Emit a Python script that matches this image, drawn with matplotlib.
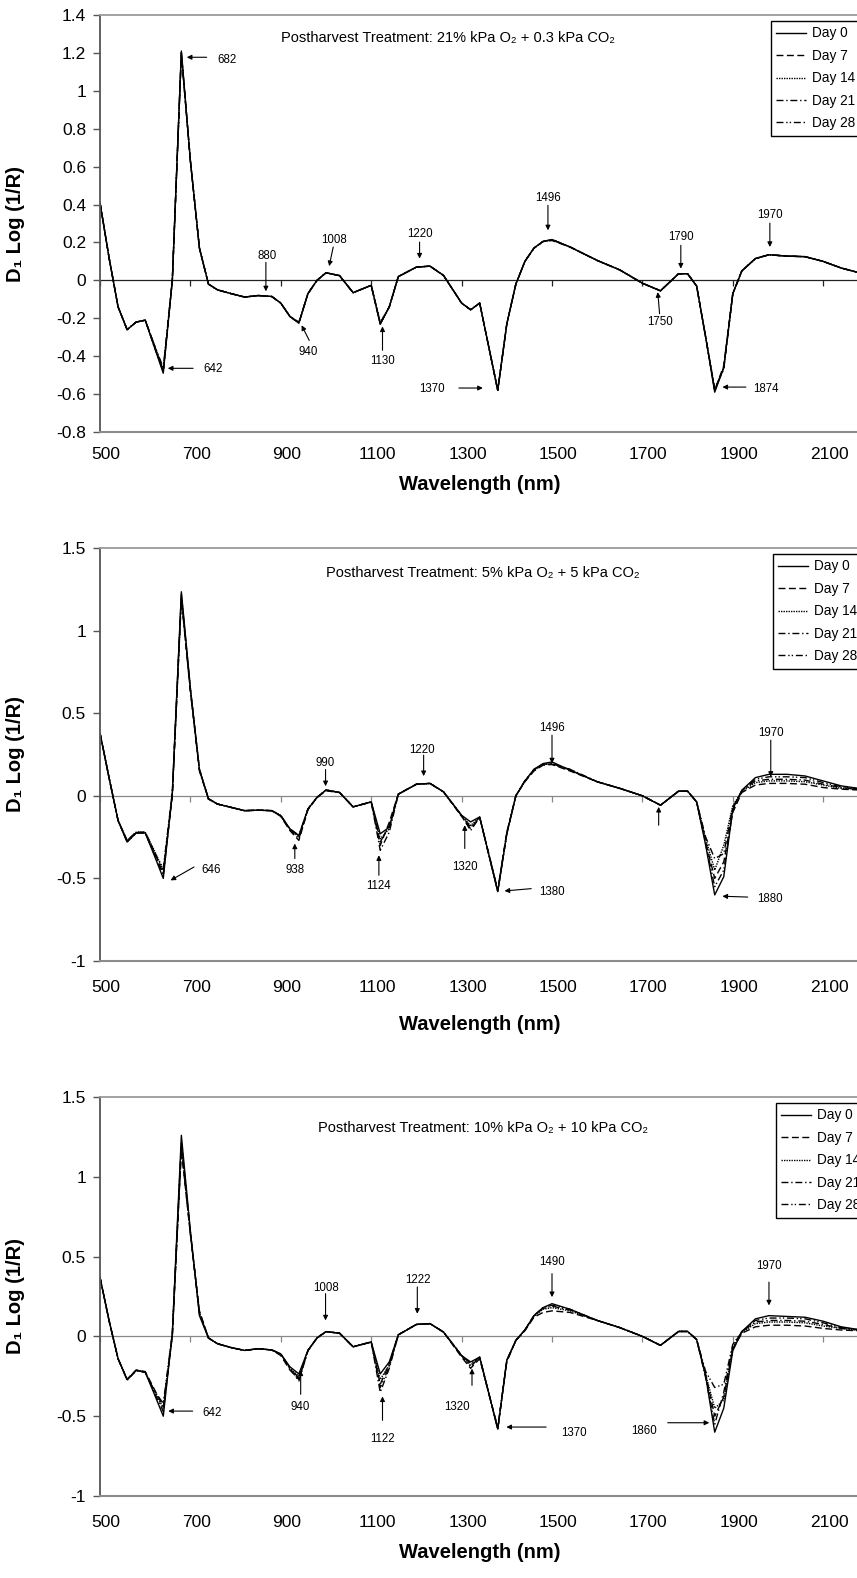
import matplotlib
matplotlib.use('Agg')
import matplotlib.pyplot as plt
import matplotlib.transforms as mtransforms
from matplotlib.ticker import FuncFormatter, MultipleLocator, FixedLocator

plt.rcParams['font.family'] = ['Liberation Sans', 'DejaVu Sans']

W, H = 857, 1578

# wavelength grid (nm)
wl = [500, 520, 540, 560, 580, 600, 620, 640, 660, 680,
      700, 720, 740, 760, 790, 820, 850, 880, 900, 920,
      940, 960, 980, 1000, 1030, 1060, 1100, 1120, 1140, 1160,
      1200, 1230, 1260, 1300, 1320, 1340, 1380, 1400, 1420, 1440,
      1460, 1480, 1500, 1540, 1600, 1650, 1700, 1740, 1780, 1800,
      1820, 1840, 1860, 1880, 1900, 1920, 1950, 1980, 2020, 2060,
      2100, 2140, 2180]

xticks = [500, 700, 900, 1100, 1300, 1500, 1700, 1900, 2100]
days = ['Day 0', 'Day 7', 'Day 14', 'Day 21', 'Day 28']

# panel 1: 21% O2 + 0.3 CO2
p1_day0 = [0.41, 0.12, -0.14, -0.26, -0.22, -0.21, -0.35, -0.49, 0.00, 1.21,
           0.63, 0.17, -0.02, -0.05, -0.07, -0.088, -0.08, -0.085, -0.12, -0.19,
           -0.225, -0.07, 0.00, 0.04, 0.025, -0.065, -0.026, -0.23, -0.14, 0.02,
           0.07, 0.075, 0.026, -0.12, -0.155, -0.12, -0.58, -0.23, -0.02, 0.10,
           0.17, 0.205, 0.215, 0.176, 0.105, 0.055, -0.015, -0.055, 0.035, 0.035,
           -0.03, -0.30, -0.59, -0.46, -0.07, 0.05, 0.115, 0.135, 0.128, 0.125,
           0.10, 0.065, 0.04]
p1_day7 = [0.41, 0.12, -0.14, -0.26, -0.22, -0.21, -0.34, -0.48, 0.00, 1.20,
           0.63, 0.17, -0.02, -0.05, -0.07, -0.088, -0.08, -0.085, -0.12, -0.19,
           -0.225, -0.07, 0.00, 0.04, 0.025, -0.065, -0.026, -0.23, -0.14, 0.02,
           0.07, 0.075, 0.026, -0.12, -0.155, -0.12, -0.58, -0.23, -0.02, 0.10,
           0.17, 0.205, 0.21, 0.176, 0.105, 0.055, -0.015, -0.055, 0.035, 0.035,
           -0.03, -0.30, -0.58, -0.45, -0.07, 0.05, 0.115, 0.135, 0.128, 0.125,
           0.10, 0.065, 0.04]
p1_day14 = [0.41, 0.12, -0.14, -0.26, -0.22, -0.21, -0.34, -0.47, 0.00, 1.20,
            0.63, 0.17, -0.02, -0.05, -0.07, -0.088, -0.08, -0.085, -0.12, -0.19,
            -0.225, -0.07, 0.00, 0.04, 0.025, -0.065, -0.026, -0.22, -0.14, 0.02,
            0.07, 0.075, 0.026, -0.12, -0.155, -0.12, -0.58, -0.23, -0.02, 0.10,
            0.17, 0.205, 0.215, 0.176, 0.105, 0.055, -0.015, -0.055, 0.035, 0.035,
            -0.03, -0.30, -0.58, -0.46, -0.07, 0.05, 0.115, 0.135, 0.128, 0.125,
            0.10, 0.065, 0.04]
p1_day21 = [0.41, 0.12, -0.14, -0.26, -0.22, -0.21, -0.35, -0.48, 0.00, 1.19,
            0.63, 0.17, -0.02, -0.05, -0.07, -0.088, -0.08, -0.085, -0.12, -0.19,
            -0.225, -0.07, 0.00, 0.04, 0.025, -0.065, -0.026, -0.23, -0.14, 0.02,
            0.07, 0.075, 0.026, -0.12, -0.155, -0.12, -0.58, -0.23, -0.02, 0.10,
            0.17, 0.205, 0.215, 0.176, 0.105, 0.055, -0.015, -0.055, 0.035, 0.035,
            -0.03, -0.30, -0.57, -0.47, -0.07, 0.05, 0.115, 0.135, 0.128, 0.125,
            0.10, 0.065, 0.04]
p1_day28 = [0.41, 0.12, -0.14, -0.26, -0.22, -0.21, -0.34, -0.46, 0.00, 1.20,
            0.63, 0.17, -0.02, -0.05, -0.07, -0.088, -0.08, -0.085, -0.12, -0.19,
            -0.22, -0.07, 0.00, 0.04, 0.025, -0.065, -0.026, -0.23, -0.14, 0.02,
            0.07, 0.075, 0.026, -0.12, -0.155, -0.12, -0.58, -0.23, -0.02, 0.10,
            0.17, 0.205, 0.215, 0.176, 0.105, 0.055, -0.015, -0.055, 0.035, 0.035,
            -0.03, -0.30, -0.58, -0.46, -0.07, 0.05, 0.115, 0.135, 0.128, 0.125,
            0.10, 0.065, 0.04]

# panel 2: 5% O2 + 5 CO2
p2_day0 = [0.38, 0.11, -0.15, -0.28, -0.225, -0.225, -0.36, -0.50, 0.02, 1.235,
           0.65, 0.155, -0.016, -0.05, -0.07, -0.09, -0.087, -0.09, -0.12, -0.20,
           -0.24, -0.08, -0.01, 0.035, 0.02, -0.067, -0.037, -0.23, -0.19, 0.01,
           0.07, 0.075, 0.024, -0.118, -0.158, -0.128, -0.58, -0.23, 0.00, 0.09,
           0.16, 0.195, 0.205, 0.155, 0.085, 0.045, 0.00, -0.057, 0.028, 0.028,
           -0.037, -0.30, -0.60, -0.49, -0.08, 0.034, 0.11, 0.13, 0.13, 0.12,
           0.09, 0.06, 0.044]
p2_day7 = [0.38, 0.11, -0.15, -0.27, -0.22, -0.22, -0.34, -0.47, 0.00, 1.20,
           0.64, 0.16, -0.02, -0.05, -0.07, -0.09, -0.087, -0.09, -0.125, -0.21,
           -0.27, -0.085, -0.01, 0.03, 0.02, -0.067, -0.037, -0.30, -0.16, 0.01,
           0.07, 0.075, 0.024, -0.125, -0.20, -0.13, -0.57, -0.22, 0.00, 0.085,
           0.15, 0.185, 0.19, 0.15, 0.085, 0.045, 0.00, -0.057, 0.028, 0.028,
           -0.037, -0.28, -0.50, -0.40, -0.10, 0.02, 0.065, 0.075, 0.075, 0.07,
           0.05, 0.04, 0.035]
p2_day14 = [0.38, 0.11, -0.15, -0.27, -0.22, -0.22, -0.33, -0.45, 0.01, 1.22,
            0.65, 0.16, -0.02, -0.05, -0.07, -0.09, -0.087, -0.09, -0.12, -0.20,
            -0.25, -0.08, -0.01, 0.035, 0.02, -0.067, -0.037, -0.26, -0.20, 0.01,
            0.07, 0.075, 0.024, -0.12, -0.18, -0.13, -0.58, -0.23, 0.00, 0.09,
            0.155, 0.19, 0.195, 0.155, 0.085, 0.045, 0.00, -0.057, 0.028, 0.028,
            -0.037, -0.26, -0.45, -0.30, -0.06, 0.025, 0.08, 0.09, 0.09, 0.085,
            0.065, 0.045, 0.038]
p2_day21 = [0.38, 0.11, -0.15, -0.275, -0.225, -0.225, -0.35, -0.48, 0.01, 1.19,
            0.63, 0.15, -0.02, -0.05, -0.07, -0.09, -0.087, -0.09, -0.12, -0.205,
            -0.26, -0.08, -0.01, 0.035, 0.02, -0.067, -0.037, -0.33, -0.22, 0.01,
            0.07, 0.075, 0.024, -0.12, -0.21, -0.13, -0.57, -0.23, 0.00, 0.09,
            0.155, 0.19, 0.195, 0.16, 0.085, 0.045, 0.00, -0.057, 0.028, 0.028,
            -0.037, -0.25, -0.38, -0.35, -0.07, 0.03, 0.09, 0.10, 0.10, 0.095,
            0.07, 0.05, 0.04]
p2_day28 = [0.38, 0.11, -0.15, -0.28, -0.225, -0.225, -0.34, -0.44, 0.02, 1.21,
            0.64, 0.16, -0.02, -0.05, -0.07, -0.09, -0.087, -0.09, -0.12, -0.20,
            -0.24, -0.08, -0.01, 0.035, 0.02, -0.067, -0.037, -0.28, -0.18, 0.01,
            0.07, 0.075, 0.024, -0.12, -0.19, -0.13, -0.58, -0.23, 0.00, 0.09,
            0.16, 0.19, 0.19, 0.16, 0.085, 0.045, 0.00, -0.057, 0.028, 0.028,
            -0.037, -0.29, -0.55, -0.45, -0.09, 0.03, 0.10, 0.115, 0.115, 0.11,
            0.08, 0.055, 0.042]

# panel 3: 10% O2 + 10 CO2
p3_day0 = [0.37, 0.10, -0.14, -0.27, -0.213, -0.224, -0.36, -0.50, 0.02, 1.26,
           0.66, 0.13, -0.01, -0.046, -0.07, -0.088, -0.077, -0.085, -0.11, -0.19,
           -0.235, -0.088, -0.01, 0.03, 0.02, -0.065, -0.035, -0.235, -0.16, 0.01,
           0.075, 0.08, 0.027, -0.12, -0.16, -0.13, -0.58, -0.15, -0.025, 0.04,
           0.13, 0.18, 0.205, 0.17, 0.10, 0.055, 0.00, -0.056, 0.031, 0.031,
           -0.02, -0.25, -0.60, -0.45, -0.09, 0.03, 0.11, 0.13, 0.125, 0.12,
           0.095, 0.06, 0.042]
p3_day7 = [0.37, 0.10, -0.14, -0.27, -0.21, -0.22, -0.33, -0.44, 0.00, 1.17,
           0.64, 0.16, -0.01, -0.046, -0.07, -0.088, -0.077, -0.085, -0.12, -0.21,
           -0.27, -0.09, -0.01, 0.03, 0.02, -0.065, -0.035, -0.30, -0.17, 0.01,
           0.075, 0.08, 0.027, -0.13, -0.20, -0.14, -0.57, -0.16, -0.025, 0.035,
           0.12, 0.15, 0.16, 0.15, 0.10, 0.055, 0.00, -0.056, 0.031, 0.031,
           -0.02, -0.24, -0.50, -0.38, -0.08, 0.02, 0.06, 0.07, 0.07, 0.065,
           0.05, 0.04, 0.035]
p3_day14 = [0.37, 0.10, -0.14, -0.27, -0.213, -0.224, -0.34, -0.45, 0.01, 1.20,
            0.65, 0.15, -0.01, -0.046, -0.07, -0.088, -0.077, -0.085, -0.11, -0.20,
            -0.25, -0.088, -0.01, 0.03, 0.02, -0.065, -0.035, -0.27, -0.18, 0.01,
            0.075, 0.08, 0.027, -0.12, -0.18, -0.13, -0.58, -0.15, -0.025, 0.04,
            0.125, 0.17, 0.18, 0.16, 0.10, 0.055, 0.00, -0.056, 0.031, 0.031,
            -0.02, -0.24, -0.45, -0.40, -0.07, 0.025, 0.08, 0.09, 0.09, 0.085,
            0.065, 0.05, 0.038]
p3_day21 = [0.37, 0.10, -0.14, -0.275, -0.215, -0.224, -0.35, -0.47, 0.01, 1.22,
            0.65, 0.14, -0.01, -0.046, -0.07, -0.088, -0.077, -0.085, -0.11, -0.20,
            -0.28, -0.09, -0.01, 0.03, 0.02, -0.065, -0.035, -0.35, -0.20, 0.01,
            0.075, 0.08, 0.027, -0.12, -0.17, -0.13, -0.58, -0.15, -0.025, 0.04,
            0.13, 0.175, 0.19, 0.165, 0.10, 0.055, 0.00, -0.056, 0.031, 0.031,
            -0.02, -0.26, -0.55, -0.35, -0.06, 0.03, 0.09, 0.10, 0.10, 0.095,
            0.075, 0.05, 0.04]
p3_day28 = [0.37, 0.10, -0.14, -0.27, -0.213, -0.224, -0.34, -0.42, 0.02, 1.18,
            0.64, 0.15, -0.01, -0.046, -0.07, -0.088, -0.077, -0.085, -0.11, -0.20,
            -0.26, -0.088, -0.01, 0.03, 0.02, -0.065, -0.035, -0.32, -0.19, 0.01,
            0.075, 0.08, 0.027, -0.12, -0.19, -0.13, -0.58, -0.15, -0.025, 0.04,
            0.13, 0.18, 0.195, 0.17, 0.10, 0.055, 0.00, -0.056, 0.031, 0.031,
            -0.02, -0.22, -0.32, -0.30, -0.05, 0.03, 0.10, 0.115, 0.115, 0.11,
            0.085, 0.055, 0.042]

titles = ['Postharvest Treatment: 21% kPa O\u2082 + 0.3 kPa CO\u2082',
          'Postharvest Treatment: 5% kPa O\u2082 + 5 kPa CO\u2082',
          'Postharvest Treatment: 10% kPa O\u2082 + 10 kPa CO\u2082']

# annotations: label, text xy, tail xy, tip xy (data units), text ha
notes1 = [('682', (759, 1.16), (736, 1.177), (692, 1.177), 'left'),
          ('642', (728, -0.47), (706, -0.464), (650, -0.464), 'left'),
          ('880', (869, 0.127), (867, 0.095), (867, -0.058), 'center'),
          ('1008', (1017, 0.211), (1016, 0.176), (1007, 0.075), 'center'),
          ('940', (960, -0.38), (963, -0.317), (946, -0.237), 'center'),
          ('1130', (1125, -0.427), (1125, -0.369), (1125, -0.243), 'center'),
          ('1220', (1207, 0.243), (1207, 0.202), (1207, 0.115), 'center'),
          ('1496', (1491, 0.436), (1491, 0.396), (1491, 0.264), 'center'),
          ('1370', (1234, -0.575), (1294, -0.568), (1347, -0.568), 'center'),
          ('1790', (1785, 0.229), (1785, 0.185), (1785, 0.062), 'center'),
          ('1750', (1738, -0.22), (1738, -0.176), (1734, -0.062), 'center'),
          ('1874', (1944, -0.571), (1929, -0.563), (1877, -0.563), 'left'),
          ('1970', (1982, 0.343), (1982, 0.302), (1982, 0.176), 'center')]
notes2 = [('646', (725, -0.447), (708, -0.431), (656, -0.512), 'left'),
          ('938', (931, -0.447), (931, -0.38), (931, -0.289), 'center'),
          ('990', (999, 0.196), (999, 0.159), (999, 0.058), 'center'),
          ('1124', (1117, -0.548), (1117, -0.481), (1117, -0.36), 'center'),
          ('1220', (1212, 0.276), (1216, 0.246), (1216, 0.119), 'center'),
          ('1320', (1307, -0.431), (1307, -0.319), (1307, -0.178), 'center'),
          ('1380', (1472, -0.582), (1454, -0.562), (1395, -0.576), 'left'),
          ('1496', (1500, 0.412), (1500, 0.367), (1500, 0.196), 'center'),
          ('', (1736, -0.2), (1736, -0.178), (1736, -0.067), 'center'),
          ('1880', (1955, -0.622), (1933, -0.613), (1877, -0.608), 'left'),
          ('1970', (1984, 0.378), (1984, 0.337), (1984, 0.115), 'center')]
notes3 = [('642', (726, -0.479), (705, -0.468), (651, -0.468), 'left'),
          ('940', (943, -0.443), (944, -0.363), (944, -0.213), 'center'),
          ('1008', (999, 0.305), (999, 0.268), (999, 0.1), 'center'),
          ('1122', (1125, -0.641), (1125, -0.526), (1125, -0.376), 'center'),
          ('1222', (1203, 0.355), (1202, 0.31), (1202, 0.142), 'center'),
          ('1320', (1290, -0.443), (1323, -0.307), (1323, -0.202), 'center'),
          ('1370', (1520, -0.606), (1487, -0.568), (1399, -0.568), 'left'),
          ('1860', (1704, -0.595), (1756, -0.541), (1848, -0.541), 'center'),
          ('1490', (1500, 0.466), (1500, 0.393), (1500, 0.246), 'center'),
          ('1970', (1980, 0.44), (1980, 0.34), (1980, 0.194), 'center')]

panels = [
    dict(series=[p1_day0, p1_day7, p1_day14, p1_day21, p1_day28], ylim=(-0.8, 1.4), ystep=0.2,
         top=15, bottom=432, title=titles[0], tpos=(281, 38), leg=(771, 21), xlab_y=485,
         pad=11, notes=notes1, zero='#222222'),
    dict(series=[p2_day0, p2_day7, p2_day14, p2_day21, p2_day28], ylim=(-1, 1.5), ystep=0.5,
         top=548, bottom=961, title=titles[1], tpos=(326, 573), leg=(773, 554), xlab_y=1024,
         pad=14, notes=notes2, zero='#888888'),
    dict(series=[p3_day0, p3_day7, p3_day14, p3_day21, p3_day28], ylim=(-1, 1.5), ystep=0.5,
         top=1097, bottom=1496, title=titles[2], tpos=(318, 1128), leg=(776, 1103), xlab_y=1552,
         pad=14, notes=notes3, zero='#888888'),
]

styles = ['-', (0, (5, 2.5)), (0, (1, 0.8)), (0, (5, 2, 1, 2)), (0, (5, 2, 1, 1.5, 1, 2))]

fig = plt.figure(figsize=(W / 100, H / 100), dpi=100)
xmin, xmax = 500, 2300
left_px, px_per_nm = 100, 0.452
width_px = (xmax - xmin) * px_per_nm

for p in panels:
    ax = fig.add_axes([left_px / W, 1 - p['bottom'] / H, width_px / W, (p['bottom'] - p['top']) / H])
    for s, ls, lab in zip(p['series'], styles, days):
        ax.plot(wl, s, color='black', lw=1.0, linestyle=ls, label=lab)
    ax.set_xlim(xmin, xmax)
    ax.set_ylim(*p['ylim'])
    ax.xaxis.set_major_locator(FixedLocator(xticks))
    ax.yaxis.set_major_locator(MultipleLocator(p['ystep']))
    ax.yaxis.set_major_formatter(FuncFormatter(lambda v, pos: f'{round(v, 2):g}'))
    ax.tick_params(axis='x', length=0, labelsize=12.5, pad=p['pad'])
    ax.tick_params(axis='y', direction='out', length=5, width=1, color='#555555',
                   labelsize=12.5, pad=5)
    shift = mtransforms.ScaledTranslation(6 / 100, 0, fig.dpi_scale_trans)
    for lbl in ax.get_xticklabels():
        lbl.set_transform(lbl.get_transform() + shift)
    ax.spines['left'].set_color('#555555')
    ax.spines['left'].set_linewidth(1.3)
    ax.spines['bottom'].set_color('#8c8c8c')
    ax.spines['bottom'].set_linewidth(1.5)
    ax.spines['top'].set_color('#9a9a9a')
    ax.spines['top'].set_linewidth(1.3)
    ax.spines['right'].set_visible(False)

    # x axis crossing at zero
    y0 = (0 - p['ylim'][0]) / (p['ylim'][1] - p['ylim'][0])
    sec = ax.secondary_xaxis(y0)
    sec.xaxis.set_major_locator(FixedLocator(xticks))
    sec.tick_params(axis='x', direction='out', length=4, width=0.9, color=p['zero'], labelbottom=False)
    sec.spines['bottom'].set_color(p['zero'])
    sec.spines['bottom'].set_linewidth(0.9)

    ax.set_ylabel('D\u2081 Log (1/R)', fontsize=14.5, fontweight='bold')
    ax.yaxis.set_label_coords(-75 / width_px, 0.5)
    ax.set_xlabel('Wavelength (nm)', fontsize=14.5, fontweight='bold')
    ax.xaxis.label.set_va('center')
    ax.xaxis.set_label_coords((480 - left_px) / width_px, -(p['xlab_y'] - p['bottom']) / (p['bottom'] - p['top']))

    fig.text(p['tpos'][0] / W, 1 - p['tpos'][1] / H, p['title'], fontsize=10.5, ha='left', va='center')

    for lab, txy, tail, tip, ha in p['notes']:
        ax.annotate('', xy=tip, xytext=tail,
                    arrowprops=dict(arrowstyle='-|>', color='black', lw=0.8,
                                    mutation_scale=7, shrinkA=0, shrinkB=0))
        if lab:
            ax.text(txy[0], txy[1], lab, fontsize=8.3, ha=ha, va='center')

    leg = ax.legend(loc='upper left', bbox_to_anchor=(p['leg'][0] / W, 1 - p['leg'][1] / H),
                    bbox_transform=fig.transFigure, borderaxespad=0, fontsize=9.8,
                    handlelength=2.2, handletextpad=0.4, labelspacing=0.62, borderpad=0.4,
                    fancybox=False, framealpha=1, edgecolor='black')
    leg.get_frame().set_linewidth(1.0)

fig.savefig('out.png', dpi=100)
